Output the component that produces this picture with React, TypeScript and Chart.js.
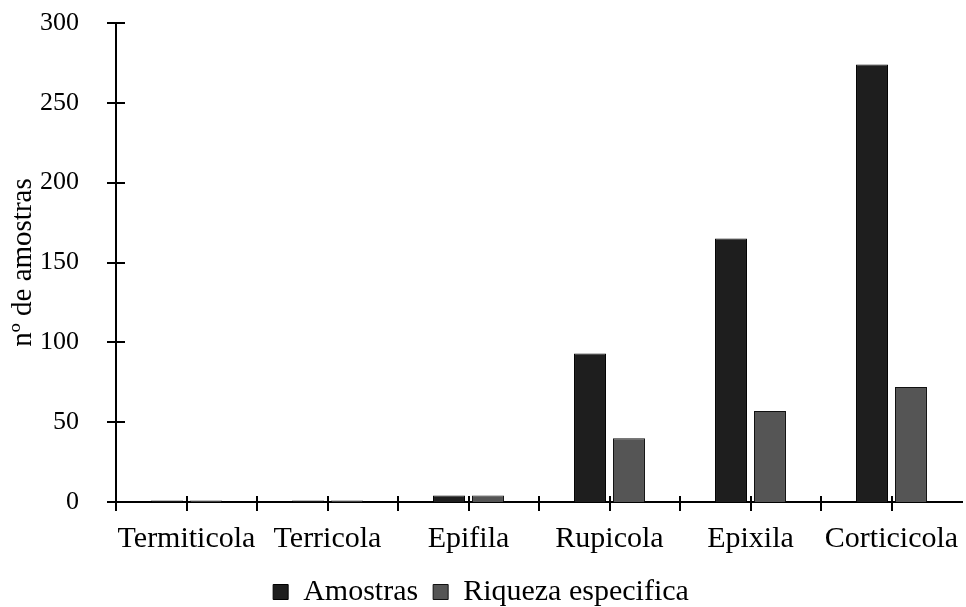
import React, { useEffect, useRef } from "react";
import { Chart, registerables } from "chart.js";

Chart.register(...registerables);

const categories = ["Termiticola", "Terricola", "Epifila", "Rupicola", "Epixila", "Corticicola"];
const amostras = [1, 1, 4, 93, 165, 274];
const riqueza = [1, 1, 4, 40, 57, 72];
const yTicks = [0, 50, 100, 150, 200, 250, 300];

const FONT = "'Liberation Serif', 'Times New Roman', serif";

const crossTicks = {
  id: "crossTicks",
  afterDraw(chart: any) {
    const { ctx } = chart;
    const x = chart.scales.x;
    const y = chart.scales.y;
    ctx.save();
    ctx.strokeStyle = "#000";
    ctx.lineWidth = 2;
    ctx.beginPath();
    y.ticks.forEach((_t: any, i: number) => {
      const py = Math.round(y.getPixelForTick(i));
      ctx.moveTo(x.left - 9, py);
      ctx.lineTo(x.left + 9, py);
    });
    const n = categories.length;
    const half = (x.getPixelForValue(1) - x.getPixelForValue(0)) / 2;
    for (let i = 0; i < n; i++) {
      const c = x.getPixelForValue(i);
      [c - half, c].forEach((px) => {
        ctx.moveTo(Math.round(px), y.bottom - 6);
        ctx.lineTo(Math.round(px), y.bottom + 9);
      });
    }
    ctx.stroke();
    ctx.restore();
  },
};

export default function App() {
  const ref = useRef<HTMLCanvasElement | null>(null);
  useEffect(() => {
    if (!ref.current) return;
    const chart = new Chart(ref.current, {
      type: "bar",
      data: {
        labels: categories,
        datasets: [
          {
            label: "Amostras",
            data: amostras,
            backgroundColor: "#1e1e1e",
            borderColor: "#000",
            borderWidth: 1,
            categoryPercentage: 0.553,
            barPercentage: 0.82,
          },
          {
            label: "Riqueza especifica",
            data: riqueza,
            backgroundColor: "#555555",
            borderColor: "#111",
            borderWidth: 1,
            categoryPercentage: 0.553,
            barPercentage: 0.82,
          },
        ],
      },
      options: {
        animation: false,
        responsive: true,
        maintainAspectRatio: false,
        layout: { padding: { top: 23, right: 4, left: 0, bottom: -10 } },
        plugins: {
          tooltip: { enabled: false },
          legend: {
            position: "bottom",
            labels: {
              color: "#000",
              boxWidth: 15,
              boxHeight: 15,
              padding: 15,
              font: { family: FONT, size: 30 },
            },
          },
        },
        scales: {
          x: {
            offset: true,
            grid: { display: false },
            border: { display: true, color: "#000", width: 2 },
            ticks: { color: "#000", font: { family: FONT, size: 30 }, padding: 11, maxRotation: 0, autoSkip: false },
            afterFit(scale: any) {
              scale.height = 60;
              scale.paddingLeft = 0;
              scale.paddingRight = 0;
            },
          },
          y: {
            min: 0,
            max: 300,
            afterBuildTicks(scale: any) {
              scale.ticks = yTicks.map((v) => ({ value: v }));
            },
            grid: { display: false },
            border: { display: true, color: "#000", width: 2 },
            ticks: { color: "#000", font: { family: FONT, size: 26 }, padding: 29 },
            title: {
              display: true,
              text: "nº de amostras",
              color: "#000",
              font: { family: FONT, size: 29 },
              padding: { top: 6, bottom: 0 },
            },
            afterFit(scale: any) {
              scale.width = 116;
              scale.paddingTop = 0;
              scale.paddingBottom = 0;
            },
          },
        },
      },
      plugins: [crossTicks],
    });
    return () => chart.destroy();
  }, []);
  return (
    <div style={{ position: "fixed", left: 0, top: 0, width: 966, height: 607, background: "#fff" }}>
      <canvas ref={ref} />
    </div>
  );
}
